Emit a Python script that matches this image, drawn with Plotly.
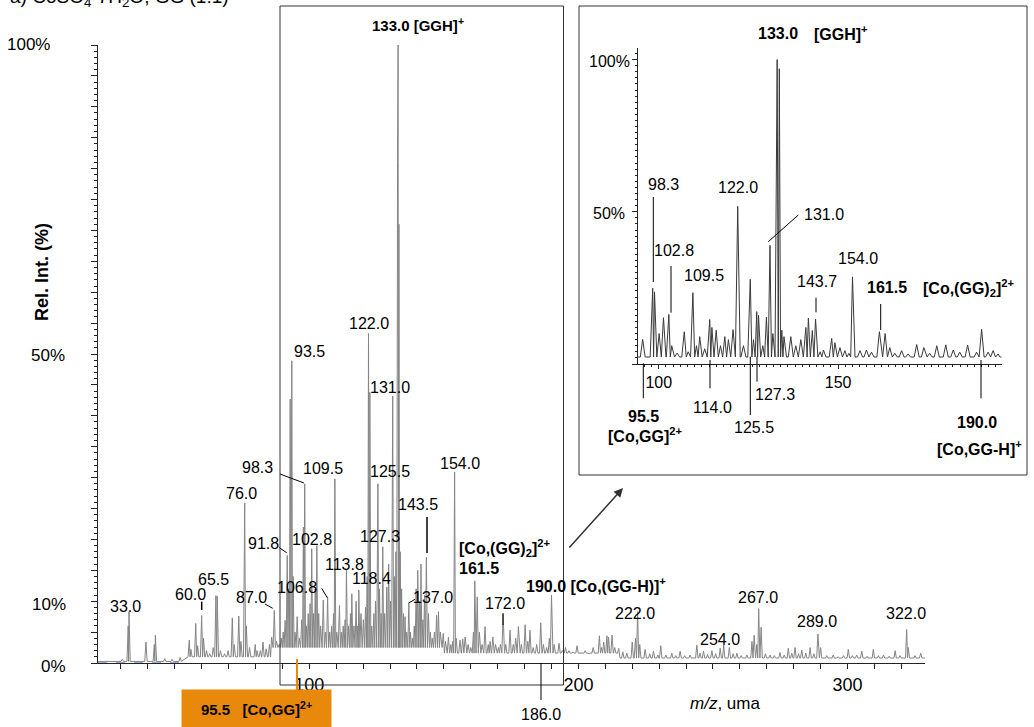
import bisect
import plotly.graph_objects as go

FONT = "Liberation Sans, Arial, sans-serif"
W, H = 1034, 727

# ---------------- main spectrum: peak apexes (m/z, rel. intensity %) ----------------
main_mz = [
    30.5, 32.7, 33.0, 39.3, 42.4, 42.8, 46.3, 49.0, 52.0, 55.4, 56.0, 57.8, 58.5, 60.0,
    60.7, 61.8, 63.0, 64.3, 65.3, 65.8, 67.0, 68.5, 69.8, 71.4, 72.1, 73.8, 74.6, 76.0,
    76.6, 77.8, 79.9, 80.6, 81.8, 82.8, 84.0, 85.2, 86.0, 87.0, 87.8, 88.8, 89.6, 90.3,
    91.0, 91.8, 92.3, 92.9, 93.5, 94.0, 94.7, 95.5, 96.3, 97.2, 97.8, 98.3, 98.9, 99.6,
    100.3, 100.9, 101.6, 102.2, 102.8, 103.5, 104.2, 105.2, 106.0, 106.8, 107.6, 108.3,
    109.0, 109.5, 110.2, 111.2, 111.9, 112.6, 113.3, 113.8, 114.6, 115.3, 115.8, 116.6,
    117.4, 118.0, 118.4, 119.2, 120.1, 120.9, 121.5, 122.0, 122.5, 123.2, 124.0, 124.6,
    125.5, 126.1, 126.7, 127.3, 128.0, 128.8, 129.5, 130.2, 131.0, 131.6, 132.2, 132.8,
    133.0, 133.3, 133.8, 134.3, 135.0, 135.6, 136.2, 137.0, 137.6, 138.3, 139.0, 139.7,
    140.3, 141.0, 141.5, 142.2, 142.8, 143.5, 144.3, 145.0, 145.7, 146.5, 147.3, 148.0,
    148.7, 149.8, 150.6, 151.7, 152.6, 153.3, 154.0, 154.6, 156.0, 157.0, 157.9, 159.0,
    160.0, 161.0, 161.5, 162.4, 163.2, 164.2, 165.3, 166.5, 167.2, 168.2, 169.2, 170.3,
    171.0, 172.0, 173.0, 174.6, 175.8, 176.7, 177.7, 178.8, 180.2, 181.2, 182.0, 183.2,
    184.5, 186.0, 187.0, 188.2, 189.2, 190.0, 191.0, 192.8, 194.0, 195.2, 196.5, 198.0,
    199.5, 201.0, 202.5, 204.0, 205.5, 207.8, 208.6, 209.4, 210.6, 211.2, 212.5, 213.5,
    215.0, 216.5, 218.0, 220.0, 221.2, 222.0, 222.8, 224.8, 226.5, 227.9, 229.5, 230.6,
    232.5, 234.7, 236.2, 237.8, 239.5, 241.5, 244.0, 245.2, 246.5, 248.0, 249.6, 251.0,
    252.7, 254.0, 256.1, 257.5, 258.9, 260.5, 262.6, 264.5, 265.3, 266.3, 267.0, 267.9,
    269.5, 271.2, 272.8, 274.9, 276.5, 278.0, 279.3, 280.5, 281.8, 283.0, 284.5, 286.1,
    287.5, 289.0, 290.0, 292.3, 294.7, 296.5, 298.5, 300.3, 301.8, 303.4, 305.3, 307.3,
    309.6, 311.5, 313.4, 315.5, 317.7, 319.5, 322.0, 322.6, 325.1, 327.2,
]
main_int = [
    0.6, 6.0, 8.3, 3.4, 3.0, 4.5, 0.7, 0.6, 0.9, 3.7, 2.2, 6.4, 2.8, 7.7,
    4.0, 2.0, 1.5, 2.5, 10.9, 10.8, 2.0, 1.5, 2.0, 7.3, 3.0, 7.6, 3.5, 25.9,
    6.0, 2.5, 3.0, 2.0, 2.0, 3.4, 2.3, 3.0, 4.2, 8.5, 3.5, 3.0, 4.0, 5.0,
    6.9, 17.4, 12.0, 42.7, 48.9, 14.0, 5.0, 7.5, 4.0, 7.0, 22.0, 29.0, 6.0, 8.0,
    9.6, 18.5, 8.0, 12.0, 19.0, 8.0, 6.0, 10.2, 5.0, 10.7, 5.0, 6.0,
    8.0, 29.8, 5.0, 9.3, 5.0, 6.0, 7.0, 15.0, 6.0, 8.0, 11.2, 6.0,
    10.0, 6.0, 11.8, 8.0, 7.0, 9.0, 14.0, 53.3, 43.8, 6.0, 8.0, 10.0,
    29.0, 12.0, 8.0, 18.8, 8.0, 12.3, 16.0, 10.0, 43.2, 14.0, 18.0, 81.0,
    100.0, 71.0, 18.0, 12.0, 8.0, 7.5, 5.0, 9.6, 5.0, 4.0, 6.0, 12.0,
    15.0, 10.0, 16.0, 7.0, 11.0, 17.1, 8.0, 5.0, 4.0, 5.0, 7.7, 8.3,
    5.0, 4.8, 3.5, 4.2, 3.0, 3.5, 30.9, 4.0, 3.7, 3.9, 4.2, 3.0,
    2.5, 5.0, 13.3, 10.7, 5.0, 3.0, 5.9, 3.0, 3.5, 4.2, 3.0, 2.5,
    3.0, 8.0, 3.0, 5.3, 3.0, 4.0, 5.9, 3.0, 6.2, 3.5, 5.3, 2.5,
    3.0, 6.5, 3.0, 2.5, 4.0, 11.0, 3.0, 3.2, 2.0, 2.5, 2.0, 1.8,
    2.8, 1.5, 2.0, 1.5, 2.5, 4.4, 2.5, 3.4, 4.4, 4.2, 4.5, 2.5,
    2.4, 1.8, 1.6, 3.4, 4.0, 8.3, 3.0, 2.2, 1.5, 1.9, 1.3, 2.8,
    1.3, 1.6, 1.2, 1.9, 1.2, 1.3, 2.9, 1.6, 1.9, 1.4, 2.0, 1.5,
    2.4, 2.9, 2.5, 1.5, 1.6, 1.2, 1.3, 3.5, 4.5, 3.0, 8.8, 5.8,
    1.5, 1.3, 1.2, 1.7, 1.3, 2.4, 1.6, 2.5, 1.5, 2.1, 1.6, 2.5,
    1.5, 4.7, 2.5, 1.2, 1.3, 1.0, 1.2, 2.2, 1.2, 1.3, 1.9, 1.1,
    2.2, 1.2, 1.3, 1.1, 2.0, 1.2, 5.4, 2.5, 1.2, 1.6,
]
# level of the trace between peaks, per m/z region
main_floor_edges = [54, 86, 150, 215]
main_floor_level = [0.25, 1.0, 2.5, 1.6, 0.8]

# ---------------- inset spectrum (m/z 94-196) ----------------
inset_mz = [
    95.5, 98.3, 98.8, 100.1, 101.3, 102.8, 103.6, 105.1, 107.1, 108.2, 109.5, 110.5,
    111.4, 112.8, 114.2, 114.8, 116.0, 117.2, 118.4, 119.4, 120.7, 122.0, 123.6, 125.5,
    126.4, 127.3, 127.8, 129.0, 130.0, 131.0, 131.8, 133.0, 133.6, 134.3, 134.9, 136.8,
    138.2, 139.6, 141.0, 141.7, 142.8, 143.7, 145.0, 145.9, 148.2, 149.1, 150.5, 151.9,
    153.0, 154.0, 156.1, 157.9, 159.3, 161.5, 163.1, 164.4, 165.8, 167.7, 169.5, 171.9,
    173.9, 175.5, 177.5, 180.0, 182.1, 183.9, 186.1, 188.6, 190.0, 191.8, 193.2, 194.6,
]
inset_int = [
    8.1, 24.9, 23.7, 10.0, 15.2, 16.3, 6.0, 3.6, 10.6, 4.0, 23.4, 6.0,
    9.0, 5.0, 14.6, 12.0, 11.1, 6.0, 9.0, 8.0, 11.3, 51.8, 6.0, 27.8,
    8.0, 17.2, 16.0, 6.0, 15.4, 39.0, 10.0, 100.0, 97.0, 11.1, 9.0, 9.0,
    6.0, 8.0, 12.0, 15.1, 11.0, 14.8, 4.0, 4.6, 8.4, 7.0, 5.4, 4.4,
    3.5, 28.6, 4.4, 4.6, 3.9, 10.6, 10.0, 5.4, 3.5, 4.4, 3.3, 6.4,
    5.4, 3.5, 6.0, 6.3, 4.6, 3.9, 6.2, 3.9, 11.4, 3.9, 4.4, 3.3,
]
inset_floor_level = 2.3

main_x_range = [21.48, 328.8]
inset_x_range = [94.2, 195.6]
inset_y_range = [0, 103.8]


def floor_main(m):
    return main_floor_level[bisect.bisect_right(main_floor_edges, m)]


def floor_inset(m):
    return inset_floor_level


def profile(mz, inten, floor, x0, x1, half):
    """Narrow peak profile: each apex rises from the baseline and falls back."""
    pts = sorted(zip(mz, inten))
    xs, ys = [x0], [floor(x0)]
    for i, (m, h) in enumerate(pts):
        prev = pts[i - 1][0] if i else x0
        nxt = pts[i + 1][0] if i + 1 < len(pts) else x1
        left = max(m - half, (prev + m) / 2)
        right = min(m + half, (m + nxt) / 2)
        if left > xs[-1] + 1e-9:
            xs.append(left)
            ys.append(floor(left))
        xs.append(m)
        ys.append(h)
        xs.append(right)
        ys.append(floor(right))
    xs.append(x1)
    ys.append(floor(x1))
    return xs, ys


def px(x):
    return x / W


def py(y):
    return 1 - y / H


mx, my = profile(main_mz, main_int, floor_main, *main_x_range, half=0.45)
ix, iy = profile(inset_mz, inset_int, floor_inset, *inset_x_range, half=0.7)

fig = go.Figure()
fig.add_trace(go.Scatter(x=[main_x_range[0], 54], y=[0, 0], mode="lines",
                         line=dict(color="#2f55d4", width=1.2, dash="dash"),
                         hoverinfo="skip", xaxis="x", yaxis="y"))
fig.add_trace(go.Scatter(x=mx, y=my, mode="lines",
                         line=dict(color="#858585", width=1.0),
                         xaxis="x", yaxis="y", name="CoSO4·7H2O + GG"))
fig.add_trace(go.Scatter(x=ix, y=iy, mode="lines",
                         line=dict(color="#3a3a3a", width=1.0),
                         xaxis="x2", yaxis="y2", name="inset"))

main_ticks = list(range(30, 330, 10))
inset_ticks = list(range(100, 200, 10))

fig.update_layout(
    width=W, height=H,
    margin=dict(l=0, r=0, t=0, b=0),
    paper_bgcolor="white", plot_bgcolor="rgba(0,0,0,0)",
    showlegend=False,
    font=dict(family=FONT, color="black"),
    xaxis=dict(domain=[98 / W, 925 / W], range=main_x_range, showgrid=False, zeroline=False,
               showline=True, linecolor="#222", linewidth=1,
               tickmode="array", tickvals=main_ticks,
               ticktext=[str(v) if v in (100, 200, 300) else "" for v in main_ticks],
               ticks="outside", ticklen=5, tickcolor="#222",
               tickfont=dict(size=18, family=FONT, color="black"), anchor="y"),
    yaxis=dict(domain=[py(663), py(45)], range=[0, 100], showgrid=False, zeroline=False,
               showline=True, linecolor="#222", linewidth=1,
               tick0=0, dtick=5, ticks="outside", ticklen=6, tickcolor="#222",
               showticklabels=False,
               minor=dict(dtick=1, ticklen=3, ticks="outside", tickcolor="#222"),
               anchor="x"),
    xaxis2=dict(domain=[638 / W, 1001.7 / W], range=inset_x_range, showgrid=False, zeroline=False,
                showline=True, linecolor="#222", linewidth=1,
                tickmode="array", tickvals=inset_ticks,
                ticktext=[str(v) if v in (100, 150) else "" for v in inset_ticks],
                ticks="outside", ticklen=4, tickcolor="#222",
                minor=dict(tickvals=list(range(96, 196, 2)), ticklen=2, ticks="outside",
                           tickcolor="#222"),
                tickfont=dict(size=16, family=FONT, color="black"), anchor="y2"),
    yaxis2=dict(domain=[py(364), py(48)], range=inset_y_range, showgrid=False, zeroline=False,
                showline=True, linecolor="#222", linewidth=1,
                tick0=0, dtick=50, ticks="outside", ticklen=5, tickcolor="#222",
                showticklabels=False,
                minor=dict(dtick=2, ticklen=2, ticks="outside", tickcolor="#222"),
                anchor="x2"),
)

shapes = []


def seg(x0, y0, x1, y1, color="black", width=1):
    shapes.append(dict(type="line", xref="paper", yref="paper",
                       x0=px(x0), y0=py(y0), x1=px(x1), y1=py(y1),
                       line=dict(color=color, width=width)))


def rect(x0, y0, x1, y1):
    shapes.append(dict(type="rect", xref="paper", yref="paper",
                       x0=px(x0), y0=py(y0), x1=px(x1), y1=py(y1),
                       line=dict(color="#333", width=1), fillcolor="rgba(0,0,0,0)"))


# zoom window on the main spectrum and the inset frame
rect(280, 6, 563.5, 685)
rect(579, 6, 1027, 475)

# leader lines, main spectrum
seg(280, 474, 304, 483)
seg(427, 517, 427, 553, width=1.5)
seg(279.3, 547.7, 286.7, 552.7)
seg(201.7, 601.7, 201.7, 610, width=1.5)
seg(321.7, 588.3, 327.3, 597.7)
seg(265, 604, 272.7, 608.3)
seg(408.3, 603.3, 415, 599.3)
seg(503, 613.3, 503, 625)
seg(541, 663, 541, 700)
seg(297, 659, 297, 690, color="#e8890c", width=2)

# leader lines, inset
seg(653.3, 197, 653.3, 282)
seg(671, 266, 671, 312.7)
seg(768.3, 241.7, 798.3, 215)
seg(816, 297.7, 816, 312.3)
seg(880.7, 304, 880.7, 330)
seg(643.3, 363.3, 643.3, 398.3)
seg(710, 360, 710, 388.3)
seg(750.3, 356.7, 750.3, 415)
seg(757, 356.7, 757, 381.7)
seg(981, 360, 981, 398.3)

fig.update_layout(shapes=shapes)

ann = []


def lab(text, x, y, size=16, bold=False, anchor="center", **kw):
    t = f"<b>{text}</b>" if bold else text
    ann.append(dict(text=t, x=px(x), y=py(y), xref="paper", yref="paper",
                    xanchor=anchor, yanchor="middle", showarrow=False,
                    font=dict(size=size, family=FONT, color="black"), **kw))


# title line at the top edge
lab("a) CoSO<sub>4</sub>·7H<sub>2</sub>O, GG (1:1)", 8, -2.5, size=19, anchor="left")

# y tick labels and axis titles
lab("100%", 52, 45, size=17, anchor="right")
lab("50%", 67, 355, size=17, anchor="right")
lab("10%", 68, 604, size=17, anchor="right")
lab("0%", 68, 666, size=17, anchor="right")
lab("Rel. Int. (%)", 42, 272, size=18, bold=True, textangle=-90)
lab("<i>m/z</i>, uma", 725, 703, size=17)

# peak labels, main spectrum
for t, x, y in [
    ("93.5", 309, 351), ("122.0", 369, 323), ("131.0", 390, 387), ("98.3", 257, 467),
    ("109.5", 323, 468), ("76.0", 241, 493), ("125.5", 390, 472), ("154.0", 460, 463),
    ("143.5", 418, 504), ("91.8", 263, 543), ("102.8", 312, 539), ("127.3", 380, 536),
    ("113.8", 344, 564), ("118.4", 371, 578), ("65.5", 213, 579), ("60.0", 190, 594),
    ("106.8", 297, 587), ("87.0", 251, 597), ("33.0", 125, 606), ("137.0", 433, 597),
    ("172.0", 505, 603), ("222.0", 635, 613), ("254.0", 720, 639), ("267.0", 758, 597),
    ("289.0", 817, 621), ("322.0", 906, 613), ("186.0", 541, 714),
]:
    lab(t, x, y)

lab("133.0 [GGH]<sup>+</sup>", 370, 25, size=15, bold=True, anchor="left")
lab("[Co,(GG)<sub>2</sub>]<sup>2+</sup>", 457, 548, bold=True, anchor="left")
lab("161.5", 457, 568, bold=True, anchor="left")
lab("190.0 [Co,(GG-H)]<sup>+</sup>", 524, 585, bold=True, anchor="left")

# highlighted ion below the axis
ann.append(dict(text="<b>95.5   [Co,GG]<sup>2+</sup></b>", x=px(256.5), y=py(708.5),
                xref="paper", yref="paper", xanchor="center", yanchor="middle",
                showarrow=False, bgcolor="#e8890c", width=147, height=35,
                font=dict(size=15, family=FONT, color="black")))

# arrow from zoom window to inset
ann.append(dict(text="", x=px(623), y=py(488), xref="paper", yref="paper",
                ax=568 - 623, ay=549 - 488, axref="pixel", ayref="pixel",
                showarrow=True, arrowhead=2, arrowsize=1.2, arrowwidth=1.5,
                arrowcolor="#333"))

# inset labels
lab("100%", 632, 62, anchor="right")
lab("50%", 627, 213, anchor="right")
for t, x, y in [
    ("98.3", 663, 185), ("122.0", 738, 187), ("131.0", 824, 214), ("102.8", 674, 250),
    ("109.5", 704, 275), ("143.7", 817, 282), ("154.0", 858, 258), ("114.0", 712, 407),
    ("125.5", 754, 428), ("127.3", 775, 395),
]:
    lab(t, x, y)
for t, x, y in [
    ("133.0", 778, 33), ("[GGH]<sup>+</sup>", 841, 33), ("161.5", 887, 288),
    ("[Co,(GG)<sub>2</sub>]<sup>2+</sup>", 968, 288), ("95.5", 643, 416),
    ("[Co,GG]<sup>2+</sup>", 645, 435), ("190.0", 977, 422),
    ("[Co,GG-H]<sup>+</sup>", 980, 448),
]:
    lab(t, x, y, bold=True)

fig.update_layout(annotations=ann)
fig.write_html("out.html")
